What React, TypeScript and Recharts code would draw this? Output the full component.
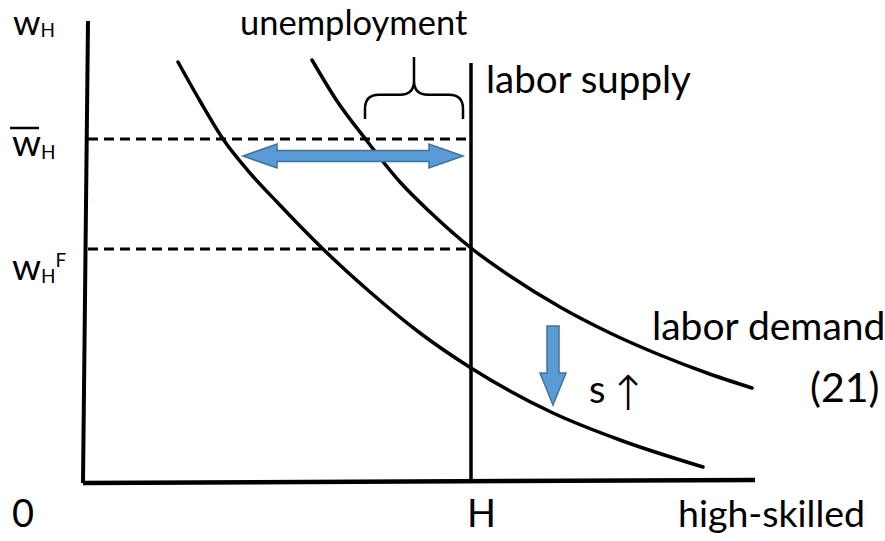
import React from 'react'
import { ComposedChart, Line, XAxis, YAxis, ReferenceLine, ReferenceDot } from 'recharts'

// units: quantity of high-skilled labour (x) and wage (y)
const supplyH = 384
const wageBar = 344
const wageF = 234

const demandHighQ = [225, 250, 280, 313, 343, 384, 423, 473, 523, 573, 620, 665]
const demandHighW = [423, 382, 342, 301, 271, 235, 207, 176, 150, 128, 110, 95]
const demandLowQ = [91, 113, 136, 163, 190, 213, 236, 283, 333, 384, 466, 533, 616]
const demandLowW = [421, 382, 344, 310, 281, 257, 234, 191, 150, 115, 70, 43, 16]

const gapFrom = 156
const gapTo = 376
const gapWage = 327
const shiftQ = 466
const shiftFrom = 157
const shiftTo = 78

const demandHigh = demandHighQ.map((q, i) => ({ q, w: demandHighW[i] }))
const demandLow = demandLowQ.map((q, i) => ({ q, w: demandLowW[i] }))

const FONT = 'Lato, "DejaVu Sans", sans-serif'
const BLUE = '#5B9BD5'
const BLUE_EDGE = '#41719C'

const DoubleArrow = (p: any) => {
  const { x1, y1, x2 } = p
  const hl = 34, hh = 12, sh = 5.5
  const pts = [
    [x1, y1], [x1 + hl, y1 - hh], [x1 + hl, y1 - sh], [x2 - hl, y1 - sh], [x2 - hl, y1 - hh],
    [x2, y1], [x2 - hl, y1 + hh], [x2 - hl, y1 + sh], [x1 + hl, y1 + sh], [x1 + hl, y1 + hh],
  ]
  return <polygon points={pts.map((a) => a.join(',')).join(' ')} fill={BLUE} stroke={BLUE_EDGE} strokeWidth={1.5} />
}

const DownArrow = (p: any) => {
  const { x1, y1, y2 } = p
  const hl = 32, hw = 13, sw = 6
  const pts = [
    [x1 - sw, y1], [x1 + sw, y1], [x1 + sw, y2 - hl], [x1 + hw, y2 - hl], [x1, y2],
    [x1 - hw, y2 - hl], [x1 - sw, y2 - hl],
  ]
  return <polygon points={pts.map((a) => a.join(',')).join(' ')} fill={BLUE} stroke={BLUE_EDGE} strokeWidth={1.5} />
}

const Brace = (p: any) => {
  const { x1, y1, x2, y2 } = p
  const r = 14
  const ym = y1 - (y1 - y2) * 0.39
  const xc = (x1 + x2) / 2
  const d = `M${x1},${y1} L${x1},${ym + r} Q${x1},${ym} ${x1 + r},${ym} L${xc - r},${ym} Q${xc},${ym} ${xc},${ym - r} L${xc},${y2}
    M${xc},${ym - r} Q${xc},${ym} ${xc + r},${ym} L${x2 - r},${ym} Q${x2},${ym} ${x2},${ym + r} L${x2},${y1}`
  return <path d={d} fill="none" stroke="#000" strokeWidth={2.5} />
}

const label = (key: string, x: number, y: number, body: React.ReactNode, size = 36, bar = false) => (
  <ReferenceDot
    key={key}
    x={x}
    y={y}
    r={0}
    ifOverflow="visible"
    shape={(p: any) => (
      <g>
        {bar && <line x1={p.cx - 2} x2={p.cx + 27} y1={p.cy - 28} y2={p.cy - 28} stroke="#000" strokeWidth={2.5} />}
        <text x={p.cx} y={p.cy} fontFamily={FONT} fontSize={size} fill="#000">
          {body}
        </text>
      </g>
    )}
  />
)

export default function App() {
  return (
    <div style={{ position: 'absolute', left: 0, top: 0, width: 885, height: 541, background: '#fff' }}>
      <ComposedChart width={885} height={541} margin={{ top: 0, right: 0, bottom: 0, left: 0 }}>
        <XAxis type="number" dataKey="q" domain={[-87, 798]} allowDataOverflow hide />
        <YAxis type="number" dataKey="w" domain={[-58, 483]} allowDataOverflow hide />

        {/* axes, drawn by hand like in the slide */}
        <ReferenceLine segment={[{ x: 1, y: 462 }, { x: -4, y: 0 }]} stroke="#000" strokeWidth={4} ifOverflow="visible" />
        <ReferenceLine segment={[{ x: -4, y: 0 }, { x: 668, y: 3 }]} stroke="#000" strokeWidth={4.5} ifOverflow="visible" />

        <ReferenceLine segment={[{ x: supplyH, y: 420 }, { x: supplyH, y: 1 }]} stroke="#000" strokeWidth={3.5} />
        <ReferenceLine segment={[{ x: 1, y: wageBar }, { x: supplyH, y: wageBar }]} stroke="#000" strokeWidth={2.8} strokeDasharray="10 6" />
        <ReferenceLine segment={[{ x: 1, y: wageF }, { x: supplyH, y: wageF }]} stroke="#000" strokeWidth={2.8} strokeDasharray="10 6" />

        <Line data={demandHigh} dataKey="w" type="monotone" stroke="#000" strokeWidth={3.5} strokeLinecap="round" dot={false} activeDot={false} isAnimationActive={false} />
        <Line data={demandLow} dataKey="w" type="monotone" stroke="#000" strokeWidth={3.5} strokeLinecap="round" dot={false} activeDot={false} isAnimationActive={false} />

        <ReferenceLine segment={[{ x: gapFrom, y: gapWage }, { x: gapTo, y: gapWage }]} shape={DoubleArrow} />
        <ReferenceLine segment={[{ x: shiftQ, y: shiftFrom }, { x: shiftQ, y: shiftTo }]} shape={DownArrow} />
        <ReferenceLine segment={[{ x: 278, y: 364 }, { x: 376, y: 426 }]} shape={Brace} />

        {label('u', 153, 448, 'unemployment', 34.5)}
        {label('ls', 399, 390, 'labor supply', 38.5)}
        {label('ld', 565, 143, 'labor demand', 39)}
        {label('eq', 723, 81, '(21)', 41)}
        {label('s', 502, 80, 's', 38)}
        {label('up', 521, 73, <tspan fontFamily='"DejaVu Sans ExtraLight", "DejaVu Sans"' fontWeight={200}>↑</tspan>, 48)}
        {label('o', -75, -44, '0', 38)}
        {label('h', 380, -44, 'H', 38)}
        {label('hs', 591, -44, 'high-skilled', 37.5)}
        {label('w', -74, 448, <>w<tspan dy={2} fontSize={19}>H</tspan></>, 35)}
        {label('wb', -75, 327, <>w<tspan dy={3} fontSize={19}>H</tspan></>, 37, true)}
        {label('wf', -75, 203, <>w<tspan dy={3} fontSize={19}>H</tspan><tspan dy={-16} fontSize={19}>F</tspan></>, 37)}
      </ComposedChart>
    </div>
  )
}
